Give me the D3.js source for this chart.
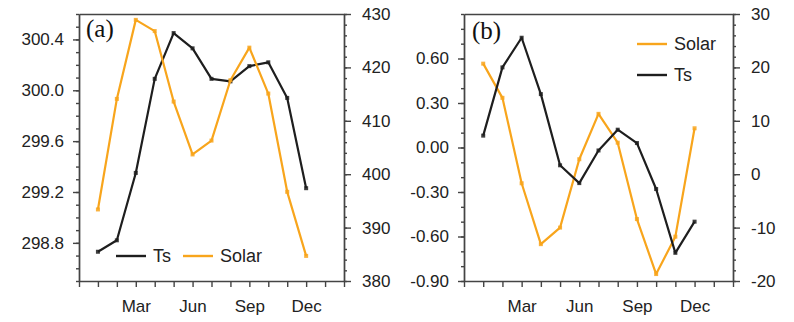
<!DOCTYPE html>
<html><head><meta charset="utf-8">
<script src="https://cdn.jsdelivr.net/npm/d3@7/dist/d3.min.js"></script>
<style>
html,body{margin:0;padding:0;background:#fff;}
svg{display:block;}
.tk text{font-family:"Liberation Sans",Arial,Helvetica,sans-serif;font-size:17px;fill:#222;}
.tk path,.tk line{stroke:#444;stroke-width:1.4;}
</style></head>
<body>
<svg id="c" width="794" height="322"></svg>
<script>
// ---- data ----
const monthIdx = [1,2,3,4,5,6,7,8,9,10,11,12];
const monthLabels = {3:"Mar",6:"Jun",9:"Sep",12:"Dec"};
const tsA    = [298.73,298.82,299.35,300.09,300.45,300.33,300.09,300.07,300.19,300.22,299.94,299.23];
const solarA = [393.4,414.1,428.9,426.8,413.6,403.7,406.3,417.6,423.7,415.1,396.7,384.7];
const tsB    = [0.08,0.54,0.74,0.36,-0.12,-0.24,-0.02,0.12,0.03,-0.28,-0.71,-0.50];
const solarB = [20.7,14.3,-1.7,-13.1,-10.0,2.8,11.3,5.9,-8.4,-18.7,-11.7,8.6];
const leftTicksA  = [298.8,299.2,299.6,300.0,300.4];
const rightTicksA = [380,390,400,410,420,430];
const leftTicksB  = [-0.90,-0.60,-0.30,0.00,0.30,0.60];
const rightTicksB = [-20,-10,0,10,20,30];

const ORANGE = "#F8A51C", BLACK = "#1e1e1e";
const svg = d3.select("#c");
const hy = f => d => f(d).replace("\u2212","-");

function panel(cfg){
  const {x0,x1,y0,y1} = cfg;
  const x = d3.scaleLinear().domain([0,14]).range([x0,x1]);
  const yl = d3.scaleLinear().domain(cfg.ldom).range([y1,y0]);
  const yr = d3.scaleLinear().domain(cfg.rdom).range([y1,y0]);
  const g = svg.append("g");

  g.append("g").attr("class","tk").attr("transform",`translate(0,${y0})`)
    .call(d3.axisTop(x).tickValues([]).tickSizeOuter(0));
  g.append("g").attr("class","tk").attr("transform",`translate(0,${y1})`)
    .call(d3.axisBottom(x).tickValues(d3.range(0,15)).tickSize(6).tickSizeOuter(0).tickPadding(13)
      .tickFormat(d=>monthLabels[d]||""));
  g.append("g").attr("class","tk").attr("transform",`translate(${x0},0)`)
    .call(d3.axisLeft(yl).tickValues(cfg.lminor).tickSize(3).tickSizeOuter(0).tickFormat(""));
  g.append("g").attr("class","tk").attr("transform",`translate(${x0},0)`)
    .call(d3.axisLeft(yl).tickValues(cfg.lticks).tickSize(6).tickSizeOuter(0).tickPadding(9)
      .tickFormat(hy(cfg.lfmt)));
  g.append("g").attr("class","tk").attr("transform",`translate(${x1},0)`)
    .call(d3.axisRight(yr).tickValues(cfg.rminor).tickSize(3).tickSizeOuter(0).tickFormat(""));
  g.append("g").attr("class","tk").attr("transform",`translate(${x1},0)`)
    .call(d3.axisRight(yr).tickValues(cfg.rticks).tickSize(7).tickSizeOuter(0).tickPadding(11)
      .tickFormat(hy(d3.format("d"))));

  const series = [
    {vals:cfg.ts, y:yl, color:BLACK},
    {vals:cfg.solar, y:yr, color:ORANGE}
  ];
  const order = cfg.blackFirst ? series : [series[1],series[0]];
  order.forEach(s=>{
    const line = d3.line().x((d,i)=>x(monthIdx[i])).y(d=>s.y(d));
    g.append("path").datum(s.vals).attr("d",line).attr("fill","none")
      .attr("stroke",s.color).attr("stroke-width",2.2).attr("stroke-linejoin","round");
    g.selectAll(null).data(s.vals).enter().append("rect")
      .attr("x",(d,i)=>x(monthIdx[i])-2).attr("y",d=>s.y(d)-2)
      .attr("width",4).attr("height",4).attr("fill",s.color).attr("opacity",0.85);
  });

  g.append("text").attr("x",x0+cfg.labDx).attr("y",y0+cfg.labDy).text(cfg.label)
    .attr("font-family","'Liberation Serif','Times New Roman',serif").attr("font-size",25).attr("fill","#111");

  cfg.legend.forEach(l=>{
    g.append("line").attr("x1",l.x).attr("x2",l.x+30).attr("y1",l.y).attr("y2",l.y)
      .attr("stroke",l.color).attr("stroke-width",2.4);
    g.append("text").attr("x",l.x+37).attr("y",l.y+6).text(l.name)
      .attr("font-family","'Liberation Sans',Arial,Helvetica,sans-serif").attr("font-size",18).attr("fill","#222");
  });
}

panel({x0:79,x1:344,y0:14,y1:281,
  ldom:[298.5,300.6], rdom:[380,430],
  lticks:leftTicksA, lminor:d3.range(0,22).map(i=>+(298.5+i*0.1).toFixed(1)),
  lfmt:d3.format(".1f"),
  rticks:rightTicksA, rminor:d3.range(380,431,2),
  ts:tsA, solar:solarA, blackFirst:true,
  label:"(a)", labDx:7, labDy:23,
  legend:[{x:116,y:256,color:BLACK,name:"Ts"},{x:183,y:256,color:ORANGE,name:"Solar"}]
});
panel({x0:464,x1:733,y0:14,y1:281,
  ldom:[-0.9,0.9], rdom:[-20,30],
  lticks:leftTicksB, lminor:d3.range(0,19).map(i=>+(-0.9+i*0.1).toFixed(1)),
  lfmt:d3.format(".2f"),
  rticks:rightTicksB, rminor:d3.range(-20,31,2),
  ts:tsB, solar:solarB, blackFirst:false,
  label:"(b)", labDx:8, labDy:25,
  legend:[{x:637,y:44,color:ORANGE,name:"Solar"},{x:637,y:75,color:BLACK,name:"Ts"}]
});
</script>
</body></html>
